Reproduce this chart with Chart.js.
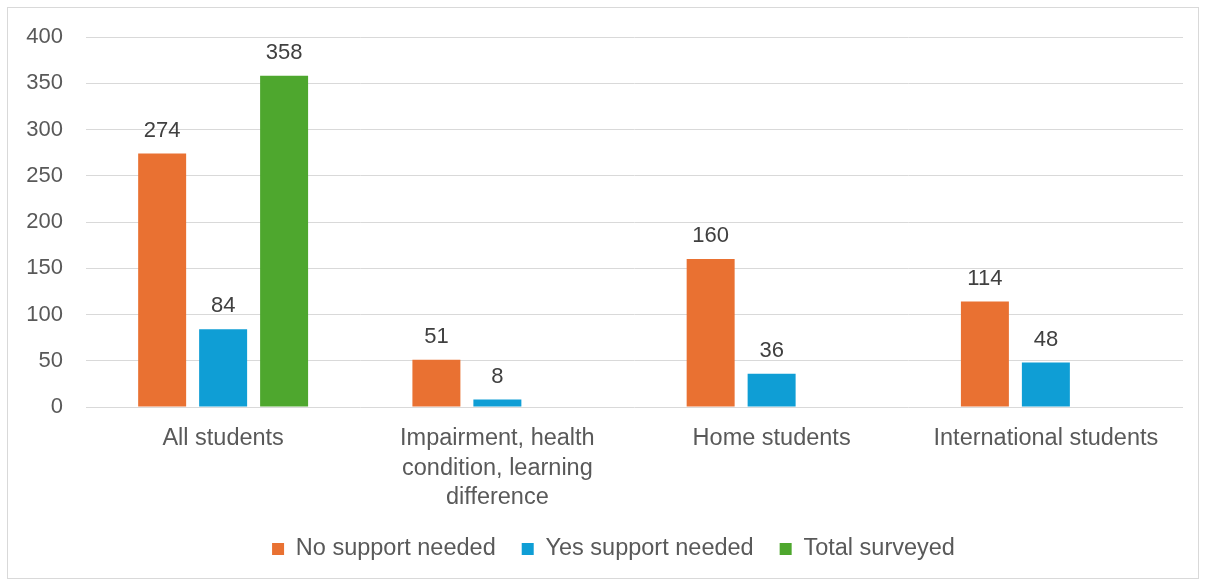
<!DOCTYPE html>
<html><head><meta charset="utf-8">
<script src="https://cdn.jsdelivr.net/npm/chart.js@4"></script>
<style>
html,body{margin:0;padding:0;background:#fff;}
#wrap{position:relative;width:1206px;height:585px;}
#frame{position:absolute;left:7px;top:7px;width:1190px;height:570px;border:1px solid #d9d9d9;pointer-events:none;}
canvas{position:absolute;left:0;top:0;}
</style></head>
<body>
<div id="wrap"><canvas id="c" width="1206" height="585"></canvas><div id="frame"></div></div>
<script>
const categories = ["All students", ["Impairment, health", "condition, learning", "difference"], "Home students", "International students"];
const noSupport = [274, 51, 160, 114];
const yesSupport = [84, 8, 36, 48];
const totalSurveyed = [358, null, null, null];
const seriesNames = ["No support needed", "Yes support needed", "Total surveyed"];
const yTicks = [0, 50, 100, 150, 200, 250, 300, 350, 400];

const FONT = "'Liberation Sans', Arial, sans-serif";

const valueLabels = {
  id: 'valueLabels',
  afterDatasetsDraw(chart) {
    const ctx = chart.ctx;
    ctx.save();
    ctx.font = "22px " + FONT;
    ctx.fillStyle = '#404040';
    ctx.textAlign = 'center';
    ctx.textBaseline = 'bottom';
    chart.data.datasets.forEach((ds, i) => {
      const meta = chart.getDatasetMeta(i);
      meta.data.forEach((el, j) => {
        const v = ds.data[j];
        if (v === null || v === undefined) return;
        ctx.fillText(String(v), el.x, el.y - 12);
      });
    });
    ctx.restore();
  }
};

const legendShift = {
  id: 'legendShift',
  afterLayout(chart) {
    const lg = chart.legend;
    if (lg) { lg.left += 22; lg.right += 22; }
  }
};

new Chart(document.getElementById('c'), {
  type: 'bar',
  data: {
    labels: categories,
    datasets: [
      { label: seriesNames[0], data: noSupport, backgroundColor: '#E97132' },
      { label: seriesNames[1], data: yesSupport, backgroundColor: '#0F9ED5' },
      { label: seriesNames[2], data: totalSurveyed, backgroundColor: '#4EA72E' }
    ]
  },
  options: {
    responsive: false,
    animation: false,
    devicePixelRatio: 1,
    categoryPercentage: 0.667,
    barPercentage: 0.787,
    layout: { padding: { top: 37, right: 23, left: 0, bottom: 14.25 } },
    scales: {
      x: {
        grid: { display: false },
        border: { display: false },
        ticks: { color: '#595959', font: { family: FONT, size: 23.5, lineHeight: 1.25 }, padding: 9, maxRotation: 0, autoSkip: false },
        afterFit(s) { s.height = 104.25; }
      },
      y: {
        min: 0, max: 400,
        afterBuildTicks(s) { s.ticks = yTicks.map(v => ({ value: v })); },
        grid: { color: '#d9d9d9', lineWidth: 1, drawTicks: false },
        border: { display: false },
        ticks: { color: '#595959', font: { family: FONT, size: 22 }, padding: 23 },
        afterFit(s) { s.width = 86; }
      }
    },
    plugins: {
      legend: {
        position: 'bottom',
        labels: { color: '#595959', font: { family: FONT, size: 23.5 }, boxWidth: 12, boxHeight: 12, padding: 26 }
      },
      tooltip: { enabled: false }
    }
  },
  plugins: [valueLabels, legendShift]
});
</script>
</body></html>
